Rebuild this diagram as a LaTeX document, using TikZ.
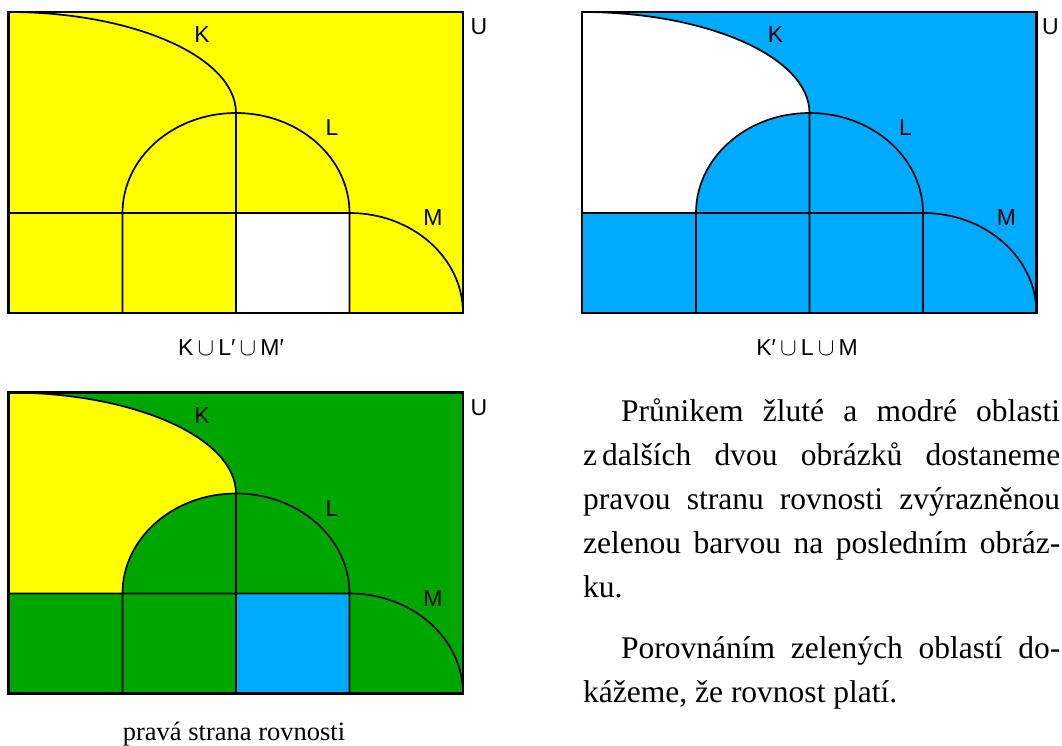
\documentclass[tikz,border=0pt]{standalone}
\usepackage{fontspec}
\setmainfont{Liberation Serif}
\newfontfamily\labelfont{Liberation Sans}
\definecolor{setyellow}{HTML}{FFFF00}
\definecolor{setblue}{HTML}{00AAFF}
\definecolor{setgreen}{HTML}{00A600}
% outline of U, K, L, M (panel coordinates)
\newcommand{\vennlines}{%
  \draw[curve] (8.5,12) arc[start angle=-90, end angle=0, x radius=227.5, y radius=101] -- (236,313);
  \draw[curve] (122.5,313) -- (122.5,213) arc[start angle=180, end angle=360, x radius=113.5, y radius=100] -- (349.5,313);
  \draw[curve] (8.5,213) -- (349.5,213) arc[start angle=-90, end angle=0, x radius=113.5, y radius=100];
  \draw[frame] (8.5,12) rectangle (463,313);
}

\begin{document}
\begin{tikzpicture}[
    x=1pt, y=-1pt,
    frame/.style={draw=black, line width=2.4pt},
    curve/.style={draw=black, line width=1.7pt},
    setlabel/.style={font=\labelfont\fontsize{23}{23}\selectfont, inner sep=0pt},
    setcaption/.style={font=\labelfont\fontsize{23}{23}\selectfont, inner sep=0pt, anchor=base},
    body/.style={text width=477pt, align=justify, inner sep=0pt, anchor=base west, font=\fontsize{31.5}{44}\selectfont}
]
    \useasboundingbox (0,0) rectangle (1062,746);

    % Panel 1: K u L' u M'
    \begin{scope}
        \fill[setyellow] (8.5,12) rectangle (463,313);
        \fill[white] (236,213) rectangle (349.5,313);
        \vennlines
        \node (k1) [setlabel] at (202,35) {K};
        \node (l1) [setlabel] at (332,128) {L};
        \node (m1) [setlabel] at (433,218) {M};
        \node (u1) [setlabel] at (479,27) {U};
        \node (cap1) [setcaption] at (231,355) {K$\,\cup\,$L′$\,\cup\,$M′};
    \end{scope}

    % Panel 2: K' u L u M
    \begin{scope}[shift={(573.5,0)}]
        \fill[setblue] (8.5,12) rectangle (463,313);
        \fill[white] (8.5,12) arc[start angle=-90, end angle=0, x radius=227.5, y radius=101]
            arc[start angle=270, end angle=180, x radius=113.5, y radius=100] -- (8.5,213) -- cycle;
        \vennlines
        \node (k2) [setlabel] at (202,35) {K};
        \node (l2) [setlabel] at (332,128) {L};
        \node (m2) [setlabel] at (433,218) {M};
        \node (u2) [setlabel] at (477,27) {U};
        \node (cap2) [setcaption] at (233.5,355) {K′$\,\cup\,$L$\,\cup\,$M};
    \end{scope}

    % Panel 3: intersection
    \begin{scope}[shift={(0,380.5)}]
        \fill[setgreen] (8.5,12) rectangle (463,313);
        \fill[setyellow] (8.5,12) arc[start angle=-90, end angle=0, x radius=227.5, y radius=101]
            arc[start angle=270, end angle=180, x radius=113.5, y radius=100] -- (8.5,213) -- cycle;
        \fill[setblue] (236,213) rectangle (349.5,313);
        \vennlines
        \node (k3) [setlabel] at (202,35) {K};
        \node (l3) [setlabel] at (332,128) {L};
        \node (m3) [setlabel] at (433,218) {M};
        \node (u3) [setlabel] at (479,27) {U};
        \node (cap3) [anchor=base, inner sep=0pt, font=\fontsize{26.5}{26.5}\selectfont] at (234,359.5) {pravá strana rovnosti};
    \end{scope}

    % Text
    \node (txt) [body] at (583,421) {\hspace*{38pt}Průnikem žluté a modré oblasti\linebreak
        z\kern5pt dalších dvou obrázků dostaneme\linebreak
        pravou stranu rovnosti zvýrazněnou\linebreak
        zelenou barvou na posledním obráz-\linebreak
        ku.\par\vspace{17pt}
        \hspace*{38pt}Porovnáním zelených oblastí do-\linebreak
        kážeme, že rovnost platí.};
\end{tikzpicture}
\end{document}
